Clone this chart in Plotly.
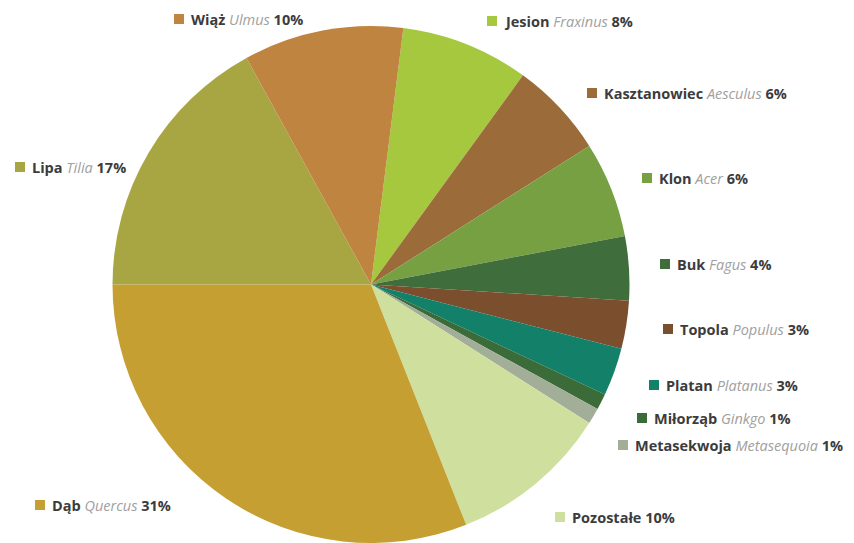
import plotly.graph_objects as go

# Tree species share (clockwise from the Jesion slice)
names = ["Jesion", "Kasztanowiec", "Klon", "Buk", "Topola", "Platan",
         "Miłorząb", "Metasekwoja", "Pozostałe", "Dąb", "Lipa", "Wiąż"]
latin = ["Fraxinus", "Aesculus", "Acer", "Fagus", "Populus", "Platanus",
         "Ginkgo", "Metasequoia", "", "Quercus", "Tilia", "Ulmus"]
shares = [8, 6, 6, 4, 3, 3, 1, 1, 10, 31, 17, 10]
colors = ["#A5C83E", "#9C6B3A", "#77A042", "#3F6E3C", "#7B4E2E", "#13806A",
          "#3A6B38", "#A3AE98", "#CFE09E", "#C59F32", "#A8A642", "#BE8440"]

W, H = 854, 543

# label placement: swatch left edge and vertical centre, in pixels
label_xy = [(487, 21), (587, 93), (642, 178), (660, 264), (663, 329), (649, 385),
            (637, 418), (618, 445), (555, 517), (35, 505), (15, 167), (174, 19)]

cx, cy, r = 371, 285, 259

fig = go.Figure(go.Pie(
    labels=names, values=shares, sort=False, direction="clockwise",
    rotation=7.2, marker=dict(colors=colors, line=dict(width=0)),
    textinfo="none", hoverinfo="label+percent", showlegend=False,
    domain=dict(x=[(cx - r) / W, (cx + r) / W], y=[0, 1 - (cy - r) / H]),
))

sw = 10
shapes, annotations = [], []
for name, lat, val, col, (sx, sy) in zip(names, latin, shares, colors, label_xy):
    shapes.append(dict(type="rect", xref="paper", yref="paper",
                       x0=sx / W, x1=(sx + sw) / W,
                       y0=1 - (sy + sw / 2) / H, y1=1 - (sy - sw / 2) / H,
                       fillcolor=col, line=dict(width=0)))
    txt = f"<b>{name}</b> "
    if lat:
        txt += f"<i><span style='color:#a0a0a0'>{lat}</span></i> "
    txt += f"<b>{val}%</b>"
    annotations.append(dict(xref="paper", yref="paper", x=(sx + sw + 5) / W,
                            y=1 - sy / H, xanchor="left", yanchor="middle",
                            text=txt, showarrow=False,
                            font=dict(family="Open Sans", size=14.5, color="#3c3c3c")))

fig.update_layout(width=W, height=H, margin=dict(l=0, r=0, t=0, b=0),
                  paper_bgcolor="white", plot_bgcolor="white",
                  shapes=shapes, annotations=annotations)

fig.write_html("out.html")
